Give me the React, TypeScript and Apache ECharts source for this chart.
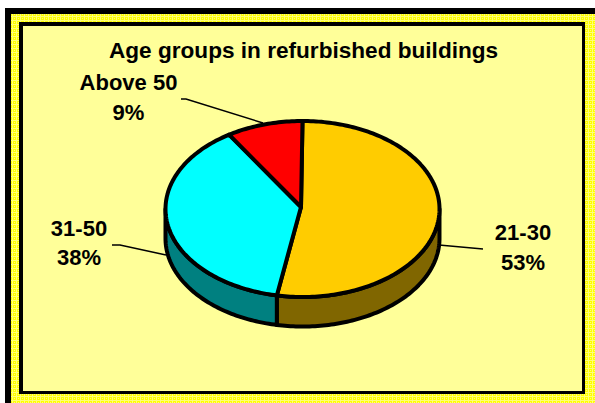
import React, { useEffect, useRef } from "react";
import * as echarts from "echarts";

const categories = ["21-30", "31-50", "Above 50"];
const values = [53, 38, 9];
const topColors = ["#FFCC00", "#00FFFF", "#FF0000"];
const sideColors = ["#806600", "#008080", "#800000"];
const titleText = "Age groups in refurbished buildings";
const labelAnchors = [[523, 247.5], [79, 243], [128.5, 97.5]];

const CX = 302.5, CY = 209, RX = 137, RY = 88, DEPTH = 29.5;
const APEX: [number, number] = [301, 207];
const total = values.reduce((a, b) => a + b, 0);

const pt = (t: number, dy = 0): [number, number] => [
  CX + RX * Math.sin(t),
  CY - RY * Math.cos(t) + dy,
];

function arcPoints(a: number, b: number, dy = 0) {
  const out: [number, number][] = [];
  const n = Math.max(2, Math.ceil(Math.abs(b - a) / 0.02));
  for (let i = 0; i <= n; i++) out.push(pt(a + ((b - a) * i) / n, dy));
  return out;
}

function ditherPattern() {
  const c = document.createElement("canvas");
  c.width = 4;
  c.height = 4;
  const g = c.getContext("2d")!;
  g.fillStyle = "#FFFF00";
  g.fillRect(0, 0, 4, 4);
  g.fillStyle = "#FFFF77";
  g.fillRect(0, 0, 1, 4);
  g.fillRect(0, 0, 4, 1);
  g.fillRect(2, 2, 1, 1);
  return { image: c, repeat: "repeat" };
}

export default function App() {
  const ref = useRef<HTMLDivElement>(null);
  useEffect(() => {
    const chart = echarts.init(ref.current!, null, { renderer: "svg" });
    const line = { stroke: "#000", lineWidth: 4, lineJoin: "round" as const };
    const starts: number[] = [];
    let acc = 0;
    values.forEach((v) => { starts.push((acc / total) * Math.PI * 2); acc += v; });

    const rect = (x: number, y: number, w: number, h: number, fill: any, z: number) => ({
      type: "rect", shape: { x, y, width: w, height: h }, style: { fill }, z,
    });

    chart.setOption({
      animation: false,
      backgroundColor: "#fff",
      title: {
        text: titleText, left: 104, top: 34,
        textStyle: { fontFamily: "Liberation Sans", fontWeight: "bold", fontSize: 22.6, color: "#000" },
      },
      graphic: [
        rect(5, 8, 590, 395, "#000", 0),
        rect(11, 14, 584, 389, ditherPattern(), 1),
        rect(19, 22, 566, 372, "#000", 2),
        rect(23, 26, 559, 365, "#FFFF99", 3),
        { type: "polyline", z: 4, shape: { points: [[181, 99], [186, 99], [263, 123]] }, style: { stroke: "#000", lineWidth: 1.5, fill: "none" } },
        { type: "polyline", z: 4, shape: { points: [[112, 245], [120, 245], [166, 255]] }, style: { stroke: "#000", lineWidth: 1.5, fill: "none" } },
        { type: "polyline", z: 4, shape: { points: [[439, 245], [483, 249]] }, style: { stroke: "#000", lineWidth: 1.5, fill: "none" } },
      ],
      series: [
        {
          type: "custom",
          coordinateSystem: "none",
          z: 5,
          data: values.map((v, i) => ({ value: [v, i] })),
          renderItem: (_p: any, api: any) => {
            const i = api.value(1) as number;
            const v = api.value(0) as number;
            const a = starts[i];
            const b = a + (v / total) * Math.PI * 2;
            const children: any[] = [];
            const s0 = Math.max(a, Math.PI / 2);
            const s1 = Math.min(b, (Math.PI * 3) / 2);
            if (s1 > s0) {
              children.push({
                type: "polygon",
                shape: { points: [...arcPoints(s0, s1), ...arcPoints(s1, s0, DEPTH)] },
                style: { fill: sideColors[i], ...line },
                z2: 1,
              });
            }
            children.push({
              type: "polygon",
              shape: { points: [APEX, ...arcPoints(a, b)] },
              style: { fill: topColors[i], ...line },
              z2: 2,
            });
            const [lx, ly] = labelAnchors[i];
            children.push({
              type: "text",
              z2: 3,
              style: {
                x: lx, y: ly,
                text: `${categories[i]}\n${v}%`,
                align: "center", verticalAlign: "middle",
                font: "bold 22px 'Liberation Sans'",
                lineHeight: 29.5,
                fill: "#000",
              },
            });
            return { type: "group", children };
          },
        },
      ],
    });
    return () => chart.dispose();
  }, []);
  return <div ref={ref} style={{ position: "fixed", left: 0, top: 0, width: 595, height: 403 }} />;
}
